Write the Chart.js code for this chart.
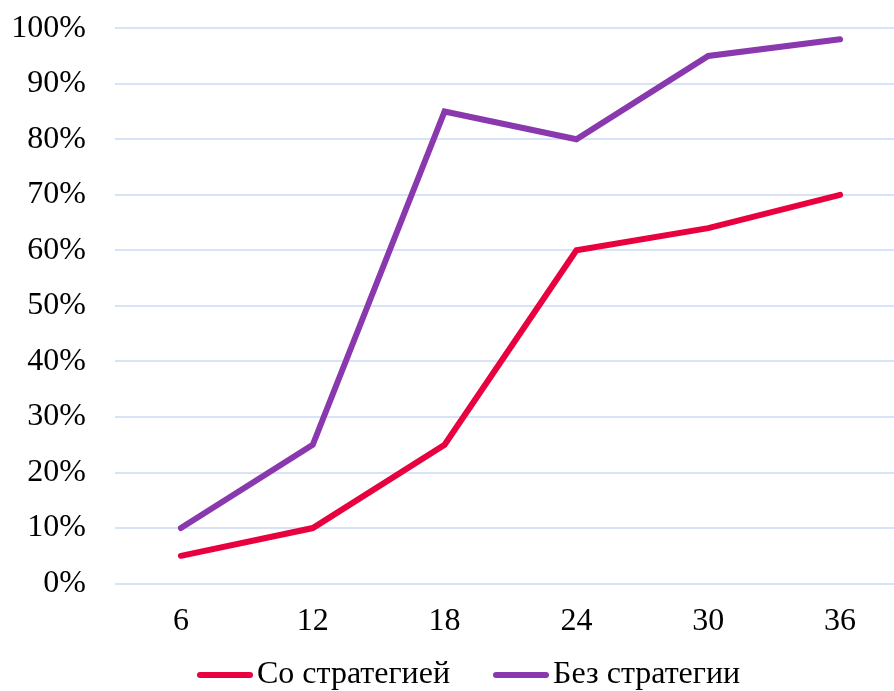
<!DOCTYPE html>
<html>
<head>
<meta charset="utf-8">
<script src="https://cdn.jsdelivr.net/npm/chart.js@4/dist/chart.umd.min.js"></script>
<style>
  html, body { margin: 0; padding: 0; background: #fff; overflow: hidden; }
  body { position: relative; width: 894px; height: 691px; }
  #wrap { position: absolute; left: 0; top: -20px; width: 906px; height: 726px; }
  #legend {
    position: absolute; left: 197px; top: 652px;
    display: flex; align-items: center;
    font-family: "Liberation Serif", "Times New Roman", serif; font-size: 32px; color: #000;
    line-height: 40px; white-space: nowrap;
  }
  #legend .item { display: flex; align-items: center; margin-right: 43px; }
  #legend .swatch { width: 56px; height: 6px; border-radius: 3px; margin-right: 4px; margin-top: 6px; }
</style>
</head>
<body>
<div id="wrap"><canvas id="myChart"></canvas></div>
<div id="legend"></div>
<script>
  'use strict'

  // data
  const months = ['6', '12', '18', '24', '30', '36']
  const withStrategy = [5, 10, 25, 60, 64, 70]
  const withoutStrategy = [10, 25, 85, 80, 95, 98]

  const ctx = document.getElementById('myChart')
  const font = { family: '"Liberation Serif", "Times New Roman", serif', size: 32 }

  const myChart = new Chart(ctx, {
    type: 'line',
    data: {
      labels: months,
      datasets: [{
        label: 'Со стратегией',
        data: withStrategy,
        borderColor: '#e8003f',
        backgroundColor: '#e8003f',
        borderWidth: 6,
        borderCapStyle: 'round',
        tension: 0,
        pointRadius: 0
      }, {
        label: 'Без стратегии',
        data: withoutStrategy,
        borderColor: '#8a38ae',
        backgroundColor: '#8a38ae',
        borderWidth: 6,
        borderCapStyle: 'round',
        tension: 0,
        pointRadius: 0
      }]
    },
    options: {
      responsive: true,
      maintainAspectRatio: false,
      animation: false,
      layout: { padding: { left: 12, top: 0, right: 0, bottom: 54 } },
      plugins: {
        legend: { display: false },  // html legend below
        tooltip: { enabled: false }
      },
      scales: {
        x: {
          offset: true,
          grid: { display: false },
          border: { display: false },
          ticks: { color: '#000', font: font, padding: 11 }
        },
        y: {
          min: 0,
          max: 100,
          afterFit: scale => { scale.width = 103 },
          grid: { color: '#d9e3f7', lineWidth: 2, drawTicks: false },
          border: { display: false },
          ticks: {
            stepSize: 10,
            color: '#000',
            font: font,
            padding: 29,
            callback: v => v + '%'
          }
        }
      }
    }
  })

  // legend from the datasets
  const legendEl = document.getElementById('legend')
  myChart.data.datasets.forEach(ds => {
    const item = document.createElement('div')
    item.className = 'item'
    const sw = document.createElement('span')
    sw.className = 'swatch'
    sw.style.background = ds.borderColor
    const txt = document.createElement('span')
    txt.textContent = ds.label
    item.appendChild(sw)
    item.appendChild(txt)
    legendEl.appendChild(item)
  })
</script>
</body>
</html>
